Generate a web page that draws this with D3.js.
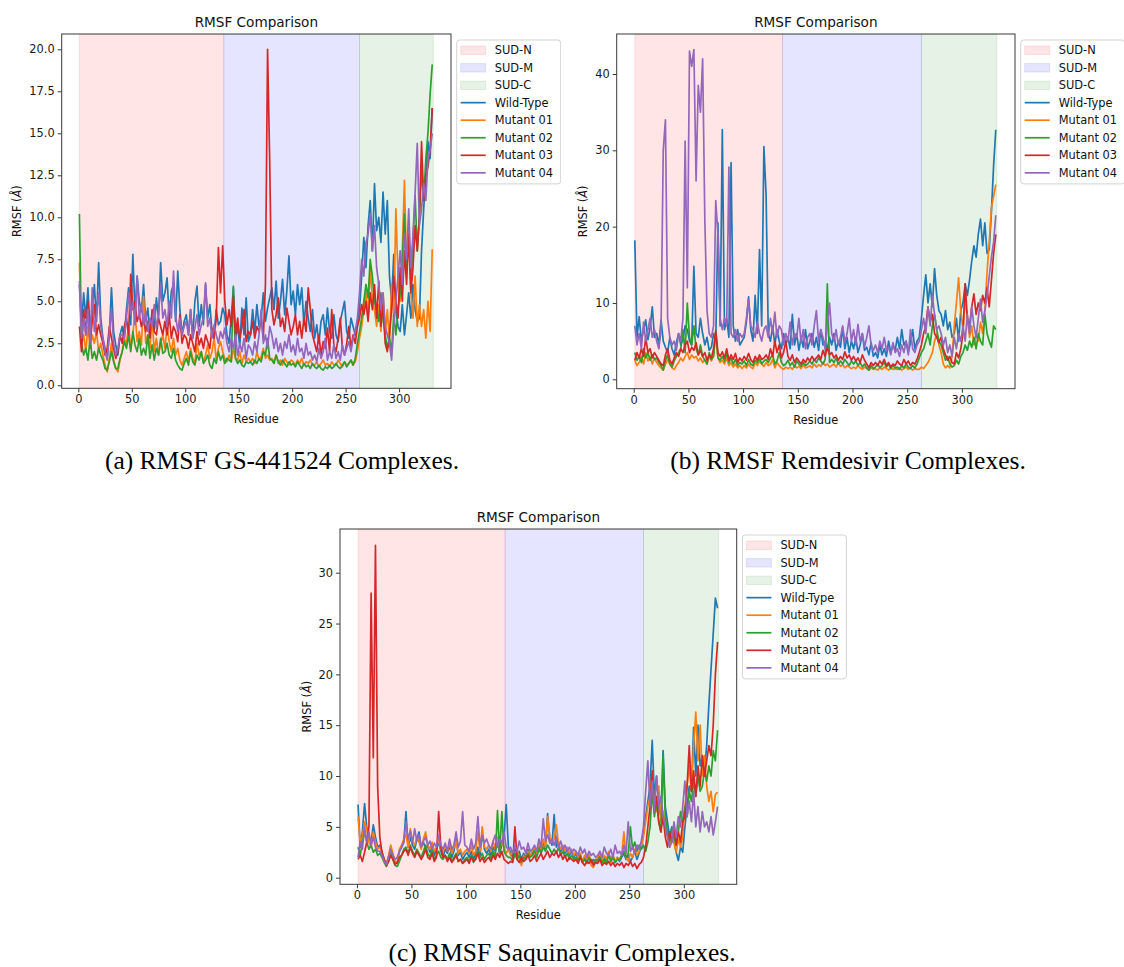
<!DOCTYPE html>
<html>
<head>
<meta charset="utf-8">
<script src="https://cdn.jsdelivr.net/npm/d3@7"></script>
<style>
  body { margin: 0; background: #fff; }
</style>
</head>
<body>
<div id="chart"></div>
<script>
// RMSF values are sampled every 2nd residue: 1, 3, 5, ... 331
const residueStart = 1;
const residueStep = 2;

const seriesNames = ['Wild-Type', 'Mutant 01', 'Mutant 02', 'Mutant 03', 'Mutant 04'];
const seriesColors = ['#1f77b4', '#ff7f0e', '#2ca02c', '#d62728', '#9467bd'];

const domainNames = ['SUD-N', 'SUD-M', 'SUD-C'];
const domainStarts = [1, 136, 263];
const domainEnds = [136, 263, 332];
const domainColors = ['rgb(255,0,0)', 'rgb(0,0,255)', 'rgb(0,128,0)'];

const xTicks = [0, 50, 100, 150, 200, 250, 300];
const yTicksGs = [0, 2.5, 5, 7.5, 10, 12.5, 15, 17.5, 20];
const yTicksRem = [0, 10, 20, 30, 40];
const yTicksSaq = [0, 5, 10, 15, 20, 25, 30];

const chartTitle = 'RMSF Comparison';
const xLabel = 'Residue';
const captions = ['(a) RMSF GS-441524 Complexes.', '(b) RMSF Remdesivir Complexes.', '(c) RMSF Saquinavir Complexes.'];

// ---- (a) GS-441524 ----
const gsWildType = [
  6.0, 3.5, 5.5, 4.0, 5.8, 3.2, 4.5, 6.0, 3.8, 7.3,
  4.0, 2.8, 2.2, 1.6, 3.0, 5.8, 3.2, 2.4, 1.8, 3.0,
  3.5, 2.8, 4.5, 5.8, 3.6, 7.8, 4.2, 6.5, 5.0, 4.4,
  6.0, 3.8, 4.6, 3.0, 4.2, 3.3, 5.2, 4.0, 7.3, 5.0,
  5.5, 6.4, 4.0, 5.6, 6.0, 3.8, 6.8, 4.5, 3.0, 3.8,
  4.2, 3.0, 4.5, 2.8, 5.0, 5.9, 3.5, 4.8, 3.6, 6.0,
  4.0, 4.8, 3.2, 3.0, 4.5, 3.6, 3.8, 4.6, 4.2, 3.0,
  2.5, 4.0, 5.8, 2.8, 3.5, 2.3, 4.6, 3.0, 5.2, 2.6,
  3.0, 4.5, 3.2, 4.8, 3.5, 4.0, 5.5, 3.8, 4.6, 5.2,
  5.8, 4.5, 6.2, 4.0, 5.0, 6.3, 4.2, 5.6, 7.7, 4.8,
  5.6, 4.2, 6.0, 4.8, 5.8, 3.6, 5.0, 4.0, 3.2, 4.5,
  2.8, 3.6, 2.5, 3.8, 4.2, 3.0, 4.6, 3.2, 2.8, 4.2,
  3.0, 2.6, 3.8, 4.4, 5.0, 3.2, 2.8, 4.0, 3.5, 3.0,
  3.8, 4.5, 6.5, 8.8, 7.0, 9.5, 11.0, 8.0, 12.0, 9.2,
  10.0, 8.5, 11.5, 9.0, 11.0, 6.5, 5.0, 7.8, 4.5, 3.5,
  3.2, 4.8, 3.0, 4.2, 5.5, 4.0, 6.0, 4.5, 3.8, 4.0,
  8.0, 10.5, 12.5, 14.5, 13.5, 16.5
];
const gsMutant01 = [
  7.3, 2.5, 3.0, 2.0, 3.5, 2.2, 3.0, 2.5, 3.2, 2.0,
  2.5, 1.8, 1.2, 0.8, 1.6, 2.5, 1.5, 1.0, 0.8, 1.5,
  2.0, 2.8, 2.5, 3.5, 2.2, 3.0, 4.5, 2.6, 3.2, 2.4,
  5.3, 2.5, 3.0, 2.2, 4.0, 2.0, 2.8, 1.8, 2.5, 3.0,
  2.2, 3.5, 2.6, 2.0, 2.8, 1.8, 2.2, 1.5, 1.2, 1.6,
  2.0, 1.4, 2.2, 1.6, 1.3, 2.5, 1.8, 2.0, 1.4, 1.8,
  2.4, 1.6, 2.0, 2.8, 1.5, 2.2, 2.6, 2.0, 1.6, 1.4,
  1.8, 1.4, 2.2, 1.6, 1.5, 2.0, 1.3, 1.8, 1.4, 1.6,
  1.4, 1.6, 1.3, 2.0, 1.5, 1.7, 2.2, 1.6, 1.8, 1.5,
  1.6, 1.4, 1.8, 1.3, 1.5, 1.2, 1.6, 1.4, 1.2, 1.5,
  1.4, 1.2, 1.5, 1.3, 1.6, 1.2, 1.4, 1.3, 1.5, 1.2,
  1.2, 1.4, 1.1, 1.3, 1.5, 1.2, 1.3, 1.1, 1.4, 1.2,
  1.2, 1.5, 1.3, 1.1, 1.4, 1.2, 1.3, 1.5, 1.2, 1.4,
  2.0, 2.8, 3.5, 4.5, 5.5, 4.0, 7.0, 5.2, 4.5, 3.5,
  4.8, 3.2, 5.5, 3.0, 4.5, 2.5, 6.0, 4.0, 10.5, 6.5,
  5.0, 8.0, 12.2, 7.0, 9.5, 5.5, 4.0, 6.5, 3.5, 4.8,
  3.5, 4.5, 2.8, 5.0, 3.2, 8.1
];
const gsMutant02 = [
  10.2, 2.5, 1.8, 2.2, 1.5, 2.8, 1.6, 2.0, 1.5, 2.2,
  1.8, 1.5, 1.0, 0.9, 1.4, 2.0, 1.4, 1.0, 1.0, 1.6,
  2.0, 2.6, 2.2, 3.0, 2.0, 3.2, 2.4, 2.0, 2.8, 1.8,
  2.2, 1.8, 3.0, 1.6, 2.4, 1.5, 2.2, 1.8, 2.8, 1.9,
  2.0, 2.5, 1.8, 1.6, 2.2, 1.5, 1.2, 1.0, 0.9, 1.3,
  1.6, 1.2, 2.0, 1.4, 1.2, 1.8, 1.5, 2.0, 1.3, 1.5,
  1.8, 1.2, 1.0, 1.6, 1.3, 2.0, 1.5, 1.8, 1.3, 1.6,
  1.5, 1.4, 5.9, 1.6, 1.3, 1.5, 1.2, 1.1, 1.4, 1.3,
  1.4, 1.2, 1.5, 1.3, 1.6, 1.4, 2.0, 1.8, 2.8, 1.6,
  1.5, 1.3, 1.8, 1.4, 1.2, 1.5, 1.3, 1.1, 1.4, 1.2,
  1.3, 1.1, 1.4, 1.2, 1.0, 1.3, 1.1, 1.2, 1.0, 1.3,
  1.1, 1.0, 1.2, 1.0, 0.9, 1.1, 1.0, 1.2, 1.0, 1.1,
  1.3, 1.1, 1.0, 1.2, 1.4, 1.1, 1.3, 1.5, 1.2, 1.6,
  2.5, 3.2, 4.0, 5.0, 6.0, 5.2, 7.5, 6.5, 5.0, 4.5,
  3.8, 5.5, 4.0, 3.0, 2.2, 2.8, 2.0, 4.2, 3.0, 4.5,
  5.5, 7.5, 10.2, 6.8, 9.0, 6.2, 8.5, 11.3, 8.0, 10.0,
  12.8, 11.0, 13.5, 15.0, 17.3, 19.1
];
const gsMutant03 = [
  3.5, 2.0, 4.5, 3.0, 5.0, 2.5, 3.8, 4.8, 3.0, 3.6,
  3.0, 2.5, 1.8, 2.2, 3.5, 2.8, 2.2, 1.6, 2.0, 3.0,
  2.5, 3.5, 4.0, 3.0, 6.6, 4.5, 5.0, 3.8, 4.2, 3.5,
  4.0, 3.2, 3.8, 2.8, 4.5, 3.2, 3.0, 4.0, 3.5, 3.0,
  3.8, 3.0, 4.2, 2.8, 3.5, 3.2, 2.6, 4.2, 2.5, 3.0,
  2.8, 2.2, 3.0, 2.5, 2.0, 3.2, 2.4, 2.8, 2.2, 3.0,
  2.6, 2.2, 3.4, 2.8, 4.0, 8.2, 5.5, 8.3, 5.0, 3.6,
  4.5, 3.5, 5.3, 3.0, 4.0, 2.8, 3.5, 4.5, 2.6, 3.2,
  3.0, 3.8, 2.8, 3.5, 3.2, 4.0, 2.8, 6.0, 20.0, 13.3,
  4.5, 3.6, 4.2, 5.2, 3.5, 4.0, 3.2, 4.6, 3.8, 3.0,
  3.5, 4.2, 3.0, 3.8, 2.8, 4.0, 3.2, 5.8, 4.5, 3.0,
  2.5, 2.0, 3.0, 1.8, 2.6, 2.2, 3.4, 2.0, 4.5, 2.4,
  2.0, 2.8, 4.0, 2.2, 1.8, 2.5, 3.5, 2.2, 3.0, 2.5,
  3.5, 4.0, 4.8, 4.2, 5.0, 3.8, 5.5, 4.5, 6.0, 4.0,
  6.2, 3.5, 4.8, 2.5, 2.0, 3.0, 4.5, 6.5, 5.0, 4.0,
  7.0, 5.0, 8.0, 6.0, 9.0, 5.5, 7.0, 9.5, 8.0, 10.0,
  14.5, 11.0, 12.5, 13.0, 14.0, 16.5
];
const gsMutant04 = [
  6.2, 2.8, 4.0, 3.0, 4.5, 2.5, 5.8, 3.2, 4.2, 5.5,
  3.5, 2.8, 2.0, 1.5, 3.2, 4.5, 2.5, 1.8, 2.2, 3.0,
  3.0, 2.8, 4.0, 5.5, 4.2, 5.0, 3.6, 6.5, 4.0, 4.8,
  3.6, 4.4, 3.2, 4.0, 3.5, 4.8, 3.4, 4.2, 6.0, 4.0,
  4.5, 3.5, 5.0, 4.0, 6.8, 4.2, 3.2, 4.0, 3.0, 3.5,
  3.8, 3.0, 4.5, 2.8, 3.4, 4.2, 3.0, 3.6, 4.0, 6.1,
  3.5, 4.0, 2.8, 3.6, 3.0, 2.5, 3.2, 2.8, 3.4, 2.5,
  2.0, 2.8, 2.2, 3.0, 1.8, 2.5, 2.0, 2.8, 1.6, 2.4,
  2.2, 1.8, 2.6, 2.0, 3.0, 4.5, 2.5, 3.0, 2.2, 3.5,
  3.0, 2.2, 2.8, 2.0, 2.5, 1.8, 2.6, 2.2, 3.0, 2.0,
  2.4, 1.8, 2.8, 2.0, 2.2, 1.6, 2.5, 1.8, 2.0, 1.5,
  1.8, 1.4, 2.2, 1.6, 2.0, 2.8, 1.5, 2.0, 1.6, 2.4,
  1.6, 2.0, 1.5, 2.4, 1.8, 2.2, 2.6, 2.0, 2.8, 3.2,
  4.0, 5.5, 7.5, 6.5, 8.5, 9.0, 10.2, 8.0, 9.5, 7.0,
  6.0, 4.5, 5.5, 3.5, 3.0, 2.5, 1.5, 3.5, 5.0, 6.5,
  8.0, 6.0, 9.0, 7.5, 10.5, 7.0, 9.0, 11.5, 14.4, 9.5,
  10.5, 12.0, 11.0, 13.5, 14.0, 15.0
];

// ---- (b) Remdesivir ----
const remWildType = [
  18.2, 5.5, 8.2, 5.0, 6.5, 7.8, 5.2, 6.8, 9.5, 5.5,
  6.0, 4.5, 7.8, 5.0, 4.2, 3.5, 5.5, 4.0, 3.2, 4.8,
  6.0, 4.5, 5.2, 7.0, 6.5, 5.0, 4.5, 14.8, 6.0, 5.5,
  8.0, 6.0, 4.5, 5.5, 3.8, 4.2, 6.0, 5.0, 20.5, 7.0,
  32.7, 6.5, 8.0, 5.5, 28.4, 7.0, 5.0, 6.5, 4.5, 5.0,
  5.5, 7.5, 10.8, 6.5, 5.0, 11.0, 6.0, 17.0, 7.0, 30.5,
  24.2, 6.0, 5.0, 7.0, 4.5, 6.5, 5.0, 4.0, 6.0, 4.5,
  5.5, 4.0, 8.5, 4.5, 6.0, 3.8, 5.5, 4.2, 6.5, 4.0,
  5.0, 6.0, 4.2, 5.5, 3.8, 6.5, 4.5, 5.0, 4.0, 5.5,
  4.5, 6.0, 3.8, 5.0, 4.2, 6.8, 4.0, 5.5, 3.5, 5.0,
  4.0, 5.5, 3.5, 4.5, 6.0, 3.8, 4.2, 3.2, 4.8, 3.0,
  3.5, 2.8, 4.5, 3.2, 4.0, 3.0, 5.0, 3.5, 4.5, 3.8,
  5.5, 4.0, 6.5, 4.5, 5.0, 3.5, 4.8, 6.5, 4.0, 5.0,
  5.5, 8.0, 11.0, 13.7, 10.0, 12.5, 9.5, 14.5, 11.0, 9.0,
  8.5, 7.0, 9.0, 6.5, 7.5, 5.5, 6.0, 8.0, 5.0, 9.0,
  10.0, 12.5, 11.0, 13.0, 15.5, 17.5, 16.0, 19.0, 21.0, 17.5,
  20.5, 16.5, 17.0, 22.0, 28.0, 32.7
];
const remMutant01 = [
  2.5, 1.8, 2.2, 3.0, 2.0, 3.5, 2.4, 3.0, 2.0, 2.8,
  2.2, 1.8, 1.5, 1.2, 2.0, 2.6, 2.0, 1.5, 1.3, 1.8,
  2.2, 2.8, 2.4, 3.0, 3.5, 2.6, 3.2, 2.8, 3.0, 2.4,
  2.8, 2.2, 2.6, 2.0, 3.0, 2.4, 3.2, 6.0, 2.8, 2.2,
  2.5, 2.0, 2.8, 1.8, 2.2, 1.6, 2.0, 1.5, 1.8, 1.4,
  1.8, 1.5, 2.0, 1.6, 1.4, 2.2, 1.8, 2.4, 2.0, 1.7,
  2.2, 1.8, 2.0, 2.6, 1.5, 2.2, 1.8, 1.5, 1.3, 1.6,
  1.4, 1.6, 1.3, 1.8, 1.5, 1.7, 1.4, 1.9, 1.5, 1.6,
  1.8, 1.5, 2.0, 1.6, 1.9, 1.7, 2.2, 1.8, 2.0, 1.6,
  1.8, 2.0, 1.6, 2.2, 1.7, 1.9, 1.5, 1.8, 1.6, 1.4,
  1.6, 1.4, 1.8, 1.5, 1.3, 1.6, 1.4, 1.2, 1.5, 1.3,
  1.4, 1.2, 1.5, 1.3, 1.6, 1.4, 1.2, 1.5, 1.3, 1.4,
  1.3, 1.5, 1.2, 1.4, 1.6, 1.3, 1.5, 1.2, 1.4, 1.3,
  1.3, 1.6, 1.4, 1.8, 2.2, 2.8, 3.5, 5.0, 6.0, 4.5,
  3.5, 2.0, 1.5, 1.8, 1.5, 3.0, 7.0, 10.0, 13.3, 9.0,
  6.5, 10.5, 8.0, 5.5, 7.0, 4.5, 6.0, 5.0, 7.5, 6.0,
  9.0, 14.0, 18.0, 22.5, 24.0, 25.5
];
const remMutant02 = [
  3.5, 2.5, 3.0, 2.2, 4.0, 2.8, 3.5, 2.5, 3.2, 2.6,
  2.8, 2.2, 1.8, 1.2, 2.5, 3.2, 2.0, 1.6, 2.4, 3.0,
  3.5, 4.0, 6.5, 3.5, 10.0, 5.5, 4.5, 7.0, 4.0, 3.2,
  4.5, 3.0, 2.5, 2.0, 3.5, 2.6, 3.0, 6.5, 2.8, 2.5,
  3.0, 2.4, 3.4, 2.2, 2.8, 2.0, 2.6, 1.8, 2.2, 2.0,
  2.4, 1.8, 2.6, 2.0, 1.8, 2.5, 2.2, 2.8, 2.0, 2.4,
  2.6, 2.2, 2.8, 3.2, 2.0, 2.4, 3.5, 2.2, 1.8, 2.0,
  2.5, 1.8, 2.2, 1.6, 2.4, 2.0, 1.7, 2.2, 1.8, 2.0,
  2.4, 2.0, 2.6, 2.2, 2.8, 2.4, 2.0, 2.6, 12.5, 2.2,
  2.6, 2.2, 2.8, 2.0, 2.4, 2.0, 2.6, 2.2, 1.8, 2.4,
  2.0, 2.4, 1.8, 2.2, 1.6, 2.0, 1.5, 1.2, 1.8, 1.4,
  1.6, 2.0, 1.5, 1.8, 2.2, 1.6, 2.0, 1.4, 1.8, 1.5,
  1.6, 1.3, 1.8, 1.5, 2.0, 1.6, 1.4, 1.8, 1.5, 2.0,
  2.8, 3.5, 4.0, 5.0, 6.0, 4.5, 7.0, 8.5, 6.5, 5.0,
  4.5, 3.5, 2.5, 3.0, 2.0, 1.6, 1.8, 2.5, 2.0, 3.0,
  3.5, 4.5, 3.8, 5.0, 4.2, 5.5, 4.0, 6.0, 5.0, 4.5,
  8.5, 6.0, 5.0, 4.2, 7.0, 6.5
];
const remMutant03 = [
  2.5, 3.5, 2.8, 4.0, 3.0, 5.5, 3.5, 4.0, 2.8, 3.5,
  3.0, 2.5, 2.0, 1.8, 3.2, 4.0, 2.5, 2.0, 2.8, 3.5,
  3.0, 4.0, 3.5, 4.5, 5.0, 3.5, 4.2, 3.8, 4.8, 3.2,
  3.8, 3.0, 3.5, 2.5, 3.2, 2.8, 4.0, 6.3, 3.5, 3.0,
  3.6, 2.8, 4.0, 2.5, 3.2, 2.6, 3.4, 2.2, 2.8, 2.4,
  3.0, 2.5, 3.4, 2.6, 2.2, 3.0, 2.5, 3.2, 2.6, 2.8,
  3.2, 2.6, 4.0, 3.0, 5.0, 3.5, 4.5, 2.8, 3.5, 5.0,
  3.0, 2.5, 3.2, 2.2, 2.8, 2.4, 2.0, 2.6, 2.2, 2.8,
  2.4, 3.0, 2.5, 2.8, 3.2, 2.6, 3.8, 3.0, 4.2, 3.2,
  3.5, 2.8, 3.2, 2.5, 3.0, 2.6, 3.6, 2.8, 3.2, 2.5,
  3.0, 2.4, 2.8, 2.2, 3.2, 2.5, 2.0, 1.5, 2.2, 1.8,
  2.2, 1.8, 2.4, 2.0, 2.6, 1.8, 2.2, 1.6, 2.0, 1.8,
  2.4, 2.0, 1.8, 2.6, 2.0, 2.4, 1.8, 2.2, 2.0, 2.6,
  3.5, 4.5, 6.0, 7.0, 9.5, 7.5, 8.5, 6.0, 5.5, 4.8,
  5.5, 4.0, 3.2, 2.5, 3.0, 2.2, 2.0, 3.5, 2.8, 4.0,
  6.0, 12.5, 8.0, 7.0, 9.5, 11.2, 8.5, 10.0, 9.0, 11.0,
  10.0, 12.0, 9.5, 13.0, 16.5, 19.0
];
const remMutant04 = [
  7.0, 4.5, 6.0, 4.0, 7.5, 5.0, 6.5, 8.0, 5.5, 6.5,
  5.0, 4.0, 6.5, 30.0, 34.0, 8.0, 5.5, 4.5, 5.0, 3.8,
  6.0, 5.0, 8.0, 31.2, 12.0, 43.0, 41.0, 43.2, 26.0, 38.5,
  35.0, 42.0, 21.0, 9.0, 6.0, 5.5, 7.0, 23.4, 19.0, 8.0,
  6.5, 8.0, 7.0, 27.8, 6.0, 5.5, 6.5, 5.0, 6.0, 5.5,
  6.0, 8.0, 10.5, 7.0, 6.5, 5.5, 7.5, 6.0, 5.0, 6.5,
  7.0, 5.5, 8.0, 6.0, 8.8, 5.5, 7.0, 6.5, 4.5, 6.0,
  5.0, 7.5, 4.5, 6.0, 5.5, 8.0, 4.8, 6.5, 4.0, 5.5,
  6.0, 4.5, 7.0, 9.0, 5.0, 6.5, 5.5, 4.0, 7.0, 10.0,
  6.0, 5.0, 6.5, 4.5, 5.5, 7.0, 4.8, 6.0, 8.0, 5.0,
  6.5, 4.5, 7.2, 5.0, 6.0, 4.2, 5.5, 7.0, 4.5, 3.8,
  4.5, 3.5, 5.0, 4.0, 5.5, 3.8, 4.2, 3.2, 4.8, 3.5,
  4.0, 3.0, 4.5, 3.5, 5.0, 3.2, 6.5, 4.0, 3.5, 4.5,
  5.0, 6.5, 8.0, 6.0, 9.5, 7.0, 11.0, 8.5, 6.5, 7.0,
  6.0, 4.5, 5.5, 3.5, 4.5, 3.0, 5.5, 4.0, 6.0, 5.0,
  7.0, 5.0, 8.5, 6.0, 9.5, 7.0, 5.5, 8.0, 10.5, 7.5,
  9.0, 11.0, 13.5, 16.0, 18.0, 21.5
];

// ---- (c) Saquinavir ----
const saqWildType = [
  7.2, 3.0, 4.5, 7.3, 5.0, 4.0, 3.5, 5.2, 4.0, 3.0,
  3.2, 2.5, 1.8, 1.2, 2.0, 3.0, 2.2, 1.5, 1.4, 2.6,
  3.0, 3.5, 6.5, 3.0, 4.0, 3.2, 2.8, 3.8, 4.5, 3.0,
  3.5, 2.8, 3.2, 2.5, 3.0, 2.2, 2.8, 3.5, 2.6, 2.0,
  2.8, 2.4, 3.2, 2.0, 2.6, 3.8, 2.2, 2.5, 1.8, 2.2,
  2.5, 2.0, 2.6, 1.8, 2.4, 3.0, 2.2, 4.5, 2.8, 2.4,
  2.8, 2.2, 3.0, 2.6, 3.5, 2.4, 3.2, 4.0, 7.2, 3.0,
  2.5, 2.0, 3.0, 2.2, 2.6, 1.8, 2.4, 2.0, 2.8, 2.2,
  2.4, 2.8, 2.2, 3.2, 2.6, 3.5, 2.8, 6.3, 3.8, 3.2,
  6.2, 3.0, 3.5, 2.6, 3.0, 2.4, 2.8, 2.2, 2.6, 2.0,
  2.4, 1.8, 2.2, 1.5, 2.0, 1.6, 2.2, 1.4, 1.8, 1.5,
  1.8, 2.2, 1.5, 2.0, 1.6, 2.4, 1.8, 2.2, 1.5, 2.0,
  1.6, 2.0, 2.4, 1.8, 2.2, 1.6, 2.0, 2.6, 1.8, 2.4,
  3.0, 4.5, 6.0, 7.5, 9.0, 13.5, 8.0, 10.0, 7.0, 6.0,
  12.5, 7.0, 5.5, 4.0, 5.0, 3.5, 2.5, 1.7, 3.0, 2.5,
  5.0, 7.0, 9.0, 8.5, 14.8, 10.0, 15.0, 11.0, 12.0, 10.5,
  13.0, 17.0, 20.5, 24.0, 27.5, 26.5
];
const saqMutant01 = [
  6.0, 3.5, 4.0, 5.5, 4.8, 3.5, 3.0, 4.5, 3.5, 2.8,
  3.0, 2.5, 1.8, 1.3, 2.2, 3.2, 2.4, 1.6, 1.5, 2.8,
  3.2, 3.8, 4.2, 3.0, 4.8, 3.5, 3.2, 4.0, 3.5, 2.8,
  3.8, 4.5, 3.2, 2.8, 3.5, 2.6, 3.0, 3.8, 2.8, 2.5,
  3.2, 2.6, 3.5, 2.4, 3.0, 3.6, 2.4, 2.8, 2.2, 2.6,
  2.8, 2.4, 3.2, 2.2, 2.6, 4.5, 2.6, 5.0, 3.0, 2.8,
  3.2, 2.6, 3.6, 2.8, 4.0, 2.8, 3.6, 3.0, 2.4, 2.8,
  2.2, 2.6, 2.0, 2.8, 1.8, 1.2, 2.2, 1.8, 2.6, 2.2,
  2.6, 3.0, 2.4, 3.5, 2.8, 3.8, 3.0, 6.0, 4.0, 3.5,
  3.8, 5.2, 3.2, 2.8, 3.2, 2.6, 3.0, 2.4, 2.8, 2.2,
  2.6, 2.0, 2.4, 1.6, 2.2, 1.8, 2.4, 1.2, 1.0, 1.6,
  2.0, 2.4, 1.6, 2.2, 1.8, 2.6, 1.5, 2.2, 1.6, 2.0,
  1.8, 2.2, 4.5, 2.0, 1.6, 2.4, 2.0, 2.8, 2.2, 2.6,
  3.2, 4.0, 5.5, 7.0, 8.0, 10.5, 7.0, 6.5, 9.0, 5.5,
  6.5, 5.0, 4.0, 3.0, 4.5, 3.5, 2.5, 3.8, 3.0, 4.0,
  7.0, 9.0, 11.0, 8.5, 13.0, 16.3, 11.5, 15.0, 10.0, 12.0,
  9.0, 7.5, 8.5, 6.5, 8.2, 8.4
];
const saqMutant02 = [
  3.0, 2.2, 3.5, 4.5, 3.5, 2.8, 3.2, 2.5, 2.8, 2.2,
  2.4, 2.0, 1.5, 1.1, 1.6, 2.4, 1.8, 1.2, 1.1, 1.6,
  2.2, 2.8, 3.0, 2.4, 3.2, 2.6, 2.2, 2.8, 2.4, 2.0,
  2.6, 3.2, 2.4, 2.0, 2.8, 1.8, 2.2, 2.6, 2.0, 1.8,
  2.2, 1.8, 2.4, 1.6, 2.0, 2.4, 1.6, 1.8, 1.4, 1.8,
  2.0, 1.6, 2.2, 1.5, 2.0, 2.6, 2.0, 2.4, 1.8, 2.2,
  2.4, 1.8, 2.6, 2.0, 6.6, 2.4, 6.5, 2.6, 2.2, 2.0,
  2.0, 1.6, 2.4, 1.8, 2.2, 1.5, 2.0, 1.8, 2.4, 2.0,
  2.2, 2.6, 2.0, 2.8, 2.4, 3.0, 2.6, 3.2, 2.8, 2.4,
  2.8, 2.4, 3.0, 2.2, 2.6, 2.0, 2.4, 1.8, 2.2, 1.8,
  2.0, 1.6, 2.2, 1.5, 1.8, 1.4, 2.0, 1.6, 1.4, 1.8,
  1.6, 2.0, 1.5, 1.8, 1.4, 2.2, 1.6, 2.0, 1.5, 1.8,
  1.8, 2.2, 2.6, 2.0, 2.4, 5.0, 2.8, 3.5, 2.6, 3.2,
  2.8, 3.2, 2.6, 3.5, 5.0, 8.5, 6.0, 7.5, 5.5, 4.5,
  12.0, 6.0, 4.5, 3.5, 5.0, 4.0, 3.2, 4.5, 6.5, 5.5,
  7.0, 6.0, 8.5, 7.5, 9.5, 8.0, 10.0, 8.5, 9.0, 10.5,
  9.5, 11.0, 10.0, 12.5, 11.5, 14.5
];
const saqMutant03 = [
  1.8, 2.2, 1.6, 2.5, 3.5, 5.0, 28.0, 11.8, 32.7, 9.0,
  4.0, 2.5, 1.8, 1.2, 1.6, 2.2, 1.8, 1.3, 1.5, 2.0,
  2.2, 2.6, 2.8, 2.2, 3.0, 2.4, 2.0, 2.6, 2.2, 1.8,
  2.2, 2.8, 2.0, 1.8, 2.4, 1.6, 2.0, 6.5, 3.0, 2.0,
  2.2, 1.6, 2.0, 1.5, 1.8, 2.2, 1.6, 1.8, 1.4, 1.6,
  1.8, 1.4, 2.0, 1.6, 1.8, 2.4, 1.6, 2.0, 1.5, 1.8,
  2.0, 1.6, 2.2, 1.8, 2.4, 2.0, 2.6, 1.8, 1.6, 1.4,
  1.6, 1.5, 5.0, 1.8, 1.5, 2.0, 1.6, 1.8, 2.2, 1.6,
  1.8, 2.2, 1.6, 2.0, 2.4, 1.8, 2.2, 2.6, 2.0, 2.4,
  2.2, 2.6, 2.0, 2.4, 1.8, 2.2, 1.6, 2.0, 1.8, 1.6,
  1.8, 1.4, 2.0, 1.5, 1.2, 1.6, 1.4, 1.8, 1.2, 1.5,
  1.4, 1.8, 1.2, 1.5, 1.3, 1.6, 1.2, 1.5, 1.1, 1.4,
  1.2, 1.5, 1.0, 1.4, 1.2, 1.6, 1.1, 1.4, 0.9, 1.3,
  1.5, 2.0, 3.0, 5.0, 7.0, 10.5, 6.5, 8.0, 5.5, 4.5,
  6.0, 4.0, 3.0, 4.5, 3.5, 5.0, 3.2, 4.5, 3.5, 5.5,
  6.0, 9.0, 13.0, 8.5, 10.5, 8.0, 11.0, 9.0, 12.0, 10.0,
  11.5, 13.0, 12.0, 15.0, 20.0, 23.2
];
const saqMutant04 = [
  2.0, 3.5, 2.8, 5.0, 3.5, 4.5, 3.2, 4.0, 3.0, 2.6,
  2.6, 2.2, 1.6, 1.3, 2.0, 2.8, 2.2, 1.8, 2.0, 2.6,
  3.0, 3.5, 5.5, 3.8, 4.6, 3.4, 4.8, 3.6, 4.2, 3.0,
  3.6, 4.0, 3.2, 3.6, 2.8, 3.4, 3.0, 4.2, 3.2, 2.8,
  3.4, 2.6, 3.8, 2.8, 3.2, 4.5, 3.0, 3.6, 6.5, 3.2,
  3.0, 2.6, 3.8, 2.8, 3.4, 6.0, 3.0, 4.2, 3.4, 3.8,
  3.2, 2.8, 3.6, 4.2, 3.0, 3.8, 3.4, 4.5, 3.0, 2.8,
  3.0, 2.4, 3.2, 2.6, 3.6, 2.8, 3.0, 2.4, 3.4, 2.6,
  2.8, 3.2, 2.6, 3.8, 3.0, 5.8, 3.6, 4.2, 3.4, 3.8,
  3.2, 4.0, 3.0, 3.6, 2.8, 3.2, 2.6, 3.0, 2.4, 2.8,
  2.6, 2.2, 3.0, 2.4, 2.8, 2.0, 2.6, 2.2, 2.4, 2.0,
  2.2, 2.6, 2.0, 3.0, 2.4, 2.2, 2.8, 2.0, 3.2, 2.4,
  2.6, 2.2, 3.2, 2.4, 5.5, 2.6, 3.0, 2.4, 3.2, 2.8,
  3.6, 5.0, 8.5, 11.5, 7.0, 9.5, 6.5, 10.0, 7.0, 8.0,
  6.0, 5.0, 4.0, 3.0, 3.5, 5.5, 4.0, 6.0, 5.0, 7.0,
  9.5, 6.0, 7.5, 5.5, 8.5, 5.0, 7.0, 4.5, 6.5, 5.0,
  5.5, 4.5, 6.0, 4.2, 5.5, 7.0
];

const W = 1124, H = 967;
const tickFont = 11.4;
const fontSans = 'DejaVu Sans, sans-serif';

const panels = [
    {
        caption: captions[0], captionX: 282, captionY: 469,
        series: [gsWildType, gsMutant01, gsMutant02, gsMutant03, gsMutant04],
        yTicks: yTicksGs, yFormat: d3.format('.1f'), yDomain: [-0.18, 20.91],
        box: { left: 61.7, right: 451, top: 34, bottom: 388.3 },
        clipRight: 561
    },
    {
        caption: captions[1], captionX: 848, captionY: 469,
        series: [remWildType, remMutant01, remMutant02, remMutant03, remMutant04],
        yTicks: yTicksRem, yFormat: d3.format('d'), yDomain: [-1.23, 45.24],
        box: { left: 616.7, right: 1015, top: 34, bottom: 388.7 },
        clipRight: W
    },
    {
        caption: captions[2], captionX: 562, captionY: 961,
        series: [saqWildType, saqMutant01, saqMutant02, saqMutant03, saqMutant04],
        yTicks: yTicksSaq, yFormat: d3.format('d'), yDomain: [-0.65, 34.3],
        box: { left: 340, right: 736.7, top: 529, bottom: 884.3 },
        clipRight: W
    }
];

const svg = d3.select('#chart')
    .append('svg')
    .attr('width', W)
    .attr('height', H)
    .style('display', 'block')
    .style('background', '#fff');

const defs = svg.append('defs');

panels.forEach((p, pi) => {
    const b = p.box;
    const x = d3.scaleLinear().domain([-15.55, 348.55]).range([b.left, b.right]);
    const y = d3.scaleLinear().domain(p.yDomain).range([b.bottom, b.top]);

    defs.append('clipPath').attr('id', `plot-clip-${pi}`)
        .append('rect')
        .attr('x', b.left).attr('y', b.top)
        .attr('width', b.right - b.left).attr('height', b.bottom - b.top);
    defs.append('clipPath').attr('id', `panel-clip-${pi}`)
        .append('rect')
        .attr('x', 0).attr('y', 0)
        .attr('width', p.clipRight).attr('height', H);

    const g = svg.append('g').attr('clip-path', `url(#panel-clip-${pi})`);
    const plot = g.append('g').attr('clip-path', `url(#plot-clip-${pi})`);

    // domain shading
    domainNames.forEach((name, i) => {
        plot.append('rect')
            .attr('x', x(domainStarts[i]))
            .attr('y', b.top)
            .attr('width', x(domainEnds[i]) - x(domainStarts[i]))
            .attr('height', b.bottom - b.top)
            .attr('fill', domainColors[i])
            .attr('fill-opacity', 0.1)
            .attr('stroke', domainColors[i])
            .attr('stroke-opacity', 0.1)
            .attr('stroke-width', 1);
    });

    // RMSF lines, wild-type first so the mutants sit on top
    const line = d3.line()
        .x((d, i) => x(residueStart + i * residueStep))
        .y(d => y(d));

    p.series.forEach((values, si) => {
        plot.append('path')
            .datum(values)
            .attr('fill', 'none')
            .attr('stroke', seriesColors[si])
            .attr('stroke-width', 1.7)
            .attr('stroke-linejoin', 'round')
            .attr('d', line);
    });

    // spines
    g.append('rect')
        .attr('x', b.left).attr('y', b.top)
        .attr('width', b.right - b.left).attr('height', b.bottom - b.top)
        .attr('fill', 'none')
        .attr('stroke', '#3a3a3a')
        .attr('stroke-width', 1);

    // axes
    const xAxis = g.append('g')
        .attr('transform', `translate(0,${b.bottom})`)
        .call(d3.axisBottom(x).tickValues(xTicks).tickSize(4).tickPadding(3).tickFormat(d3.format('d')));
    const yAxis = g.append('g')
        .attr('transform', `translate(${b.left},0)`)
        .call(d3.axisLeft(y).tickValues(p.yTicks).tickSize(4).tickPadding(3).tickFormat(p.yFormat));

    [xAxis, yAxis].forEach(ax => {
        ax.select('.domain').remove();
        ax.selectAll('.tick line').attr('stroke', '#3a3a3a').attr('stroke-width', 1);
        ax.selectAll('.tick text')
            .attr('fill', '#1a1a1a')
            .style('font-family', fontSans)
            .style('font-size', tickFont + 'px');
    });

    // title
    g.append('text')
        .attr('x', (b.left + b.right) / 2)
        .attr('y', b.top - 7.5)
        .attr('text-anchor', 'middle')
        .style('font-family', fontSans)
        .style('font-size', '13.6px')
        .attr('fill', '#111')
        .text(chartTitle);

    // x label
    g.append('text')
        .attr('x', (b.left + b.right) / 2)
        .attr('y', b.bottom + 35)
        .attr('text-anchor', 'middle')
        .style('font-family', fontSans)
        .style('font-size', tickFont + 'px')
        .attr('fill', '#111')
        .text(xLabel);

    // y label, placed left of the tick labels
    const yb = yAxis.node().getBBox();
    const yLab = g.append('text')
        .attr('transform', `translate(${b.left + yb.x - 8},${(b.top + b.bottom) / 2}) rotate(-90)`)
        .attr('text-anchor', 'middle')
        .style('font-family', fontSans)
        .style('font-size', tickFont + 'px')
        .attr('fill', '#111');
    yLab.append('tspan').text('RMSF (');
    yLab.append('tspan').style('font-style', 'italic').text('Å');
    yLab.append('tspan').text(')');

    // legend
    const lx = b.right + 5.7, ly = b.top + 6;
    const rowH = 17.55;
    const leg = g.append('g');
    leg.append('rect')
        .attr('x', lx).attr('y', ly)
        .attr('width', 104).attr('height', rowH * 8 + 3.5)
        .attr('rx', 3)
        .attr('fill', '#fff').attr('fill-opacity', 0.8)
        .attr('stroke', '#d3d3d3').attr('stroke-width', 1);

    const entries = domainNames.map((n, i) => ({ name: n, kind: 'patch', color: domainColors[i] }))
        .concat(seriesNames.map((n, i) => ({ name: n, kind: 'line', color: seriesColors[i] })));

    entries.forEach((e, i) => {
        const cy = ly + 10 + i * rowH;
        if (e.kind === 'patch') {
            leg.append('rect')
                .attr('x', lx + 4).attr('y', cy - 4)
                .attr('width', 25).attr('height', 8.5)
                .attr('fill', e.color).attr('fill-opacity', 0.1)
                .attr('stroke', e.color).attr('stroke-opacity', 0.1);
        } else {
            leg.append('line')
                .attr('x1', lx + 4).attr('x2', lx + 29)
                .attr('y1', cy).attr('y2', cy)
                .attr('stroke', e.color).attr('stroke-width', 1.7);
        }
        leg.append('text')
            .attr('x', lx + 38).attr('y', cy + 4)
            .style('font-family', fontSans)
            .style('font-size', tickFont + 'px')
            .attr('fill', '#111')
            .text(e.name);
    });

    // sub-figure caption
    svg.append('text')
        .attr('x', p.captionX)
        .attr('y', p.captionY)
        .attr('text-anchor', 'middle')
        .style('font-family', 'Liberation Serif, Times New Roman, serif')
        .style('font-size', '25.5px')
        .attr('fill', '#000')
        .text(p.caption);
});
</script>
</body>
</html>
